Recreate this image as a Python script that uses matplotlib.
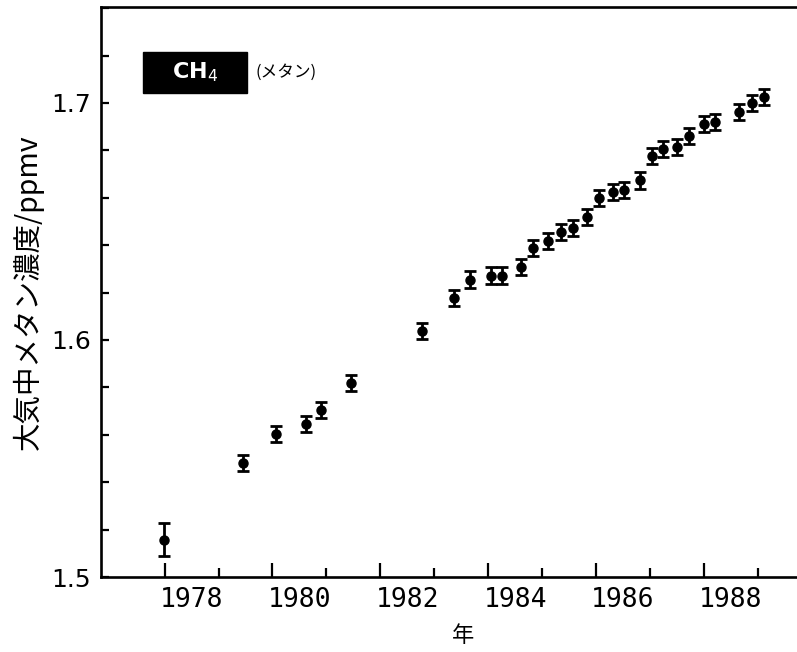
import numpy as np
import matplotlib
matplotlib.use("Agg")
import matplotlib.pyplot as plt
from matplotlib.patches import Rectangle
from matplotlib.transforms import ScaledTranslation

plt.rcParams['font.family'] = ['Noto Sans CJK JP', 'DejaVu Sans']

# data
years = [1977.98, 1979.46, 1980.06, 1980.62, 1980.90, 1981.45, 1982.78, 1983.36,
         1983.67, 1984.05, 1984.26, 1984.61, 1984.84, 1985.11, 1985.36, 1985.58,
         1985.84, 1986.06, 1986.32, 1986.53, 1986.81, 1987.04, 1987.25, 1987.50,
         1987.72, 1988.00, 1988.21, 1988.66, 1988.89, 1989.11]
ch4 = [1.5157, 1.5480, 1.5605, 1.5644, 1.5704, 1.5817, 1.6037, 1.6178,
       1.6255, 1.6272, 1.6272, 1.6307, 1.6388, 1.6419, 1.6454, 1.6472,
       1.6519, 1.6599, 1.6624, 1.6634, 1.6673, 1.6778, 1.6806, 1.6816,
       1.6861, 1.6910, 1.6921, 1.6961, 1.6999, 1.7027]
err = [0.0069] + [0.0034] * 29

year_ticks = [1978, 1980, 1982, 1984, 1986, 1988]
year_minor = [1979, 1981, 1983, 1985, 1987, 1989]
y_ticks = [1.5, 1.6, 1.7]

fig = plt.figure(figsize=(7.97, 6.52), dpi=100)
ax = fig.add_axes([101 / 797, 75 / 652, 1 - 101 / 797, 570 / 652])

ax.errorbar(years, ch4, yerr=err, fmt='o', color='black', ms=6.5,
            elinewidth=2, capsize=4, capthick=2)

ax.set_xlim(1976.82, 1989.73)
ax.set_ylim(1.5, 1.7405)

# axis ticks
ax.set_xticks(year_ticks, labels=[str(y) for y in year_ticks])
ax.set_xticks(year_minor, minor=True)
ax.set_yticks(y_ticks, labels=[str(v) for v in y_ticks])
ax.set_yticks(np.arange(1.5, 1.741, 0.02), minor=True)

ax.tick_params(axis='x', which='major', direction='in', length=10, width=1.6, pad=7)
ax.tick_params(axis='x', which='minor', direction='in', length=6.5, width=1.6)
ax.tick_params(axis='y', which='both', direction='in', length=6, width=1.6, pad=7)

for lab in ax.get_xticklabels():
    lab.set_fontfamily('DejaVu Sans Mono')
    lab.set_fontsize(19)
    # labels sit in the middle of the year
    lab.set_transform(lab.get_transform() + ScaledTranslation(0.27, 0, fig.dpi_scale_trans))
for lab in ax.get_yticklabels():
    lab.set_fontfamily('DejaVu Sans')
    lab.set_fontsize(18)

for s in ['left', 'top', 'bottom']:
    ax.spines[s].set_linewidth(1.9)
ax.spines['right'].set_visible(False)

ax.set_xlabel('年', fontsize=16, va='center')
ax.xaxis.set_label_coords(0.52, -0.1035)
ax.set_ylabel('大気中メタン濃度/ppmv', fontsize=20.5, va='center')
ax.yaxis.set_label_coords(-0.105, 0.5)

# CH4 label box
ax.add_patch(Rectangle((0.0603, 0.849), 0.149, 0.072, transform=ax.transAxes,
                       facecolor='black', edgecolor='black', clip_on=False))
ax.text(0.135, 0.885, 'CH$_4$', transform=ax.transAxes, color='white',
        fontsize=16, fontweight='bold', ha='center', va='center', family='DejaVu Sans')
ax.text(0.266, 0.885, '(メタン)', transform=ax.transAxes, fontsize=12,
        ha='center', va='center')

fig.savefig('out.png', dpi=100)
